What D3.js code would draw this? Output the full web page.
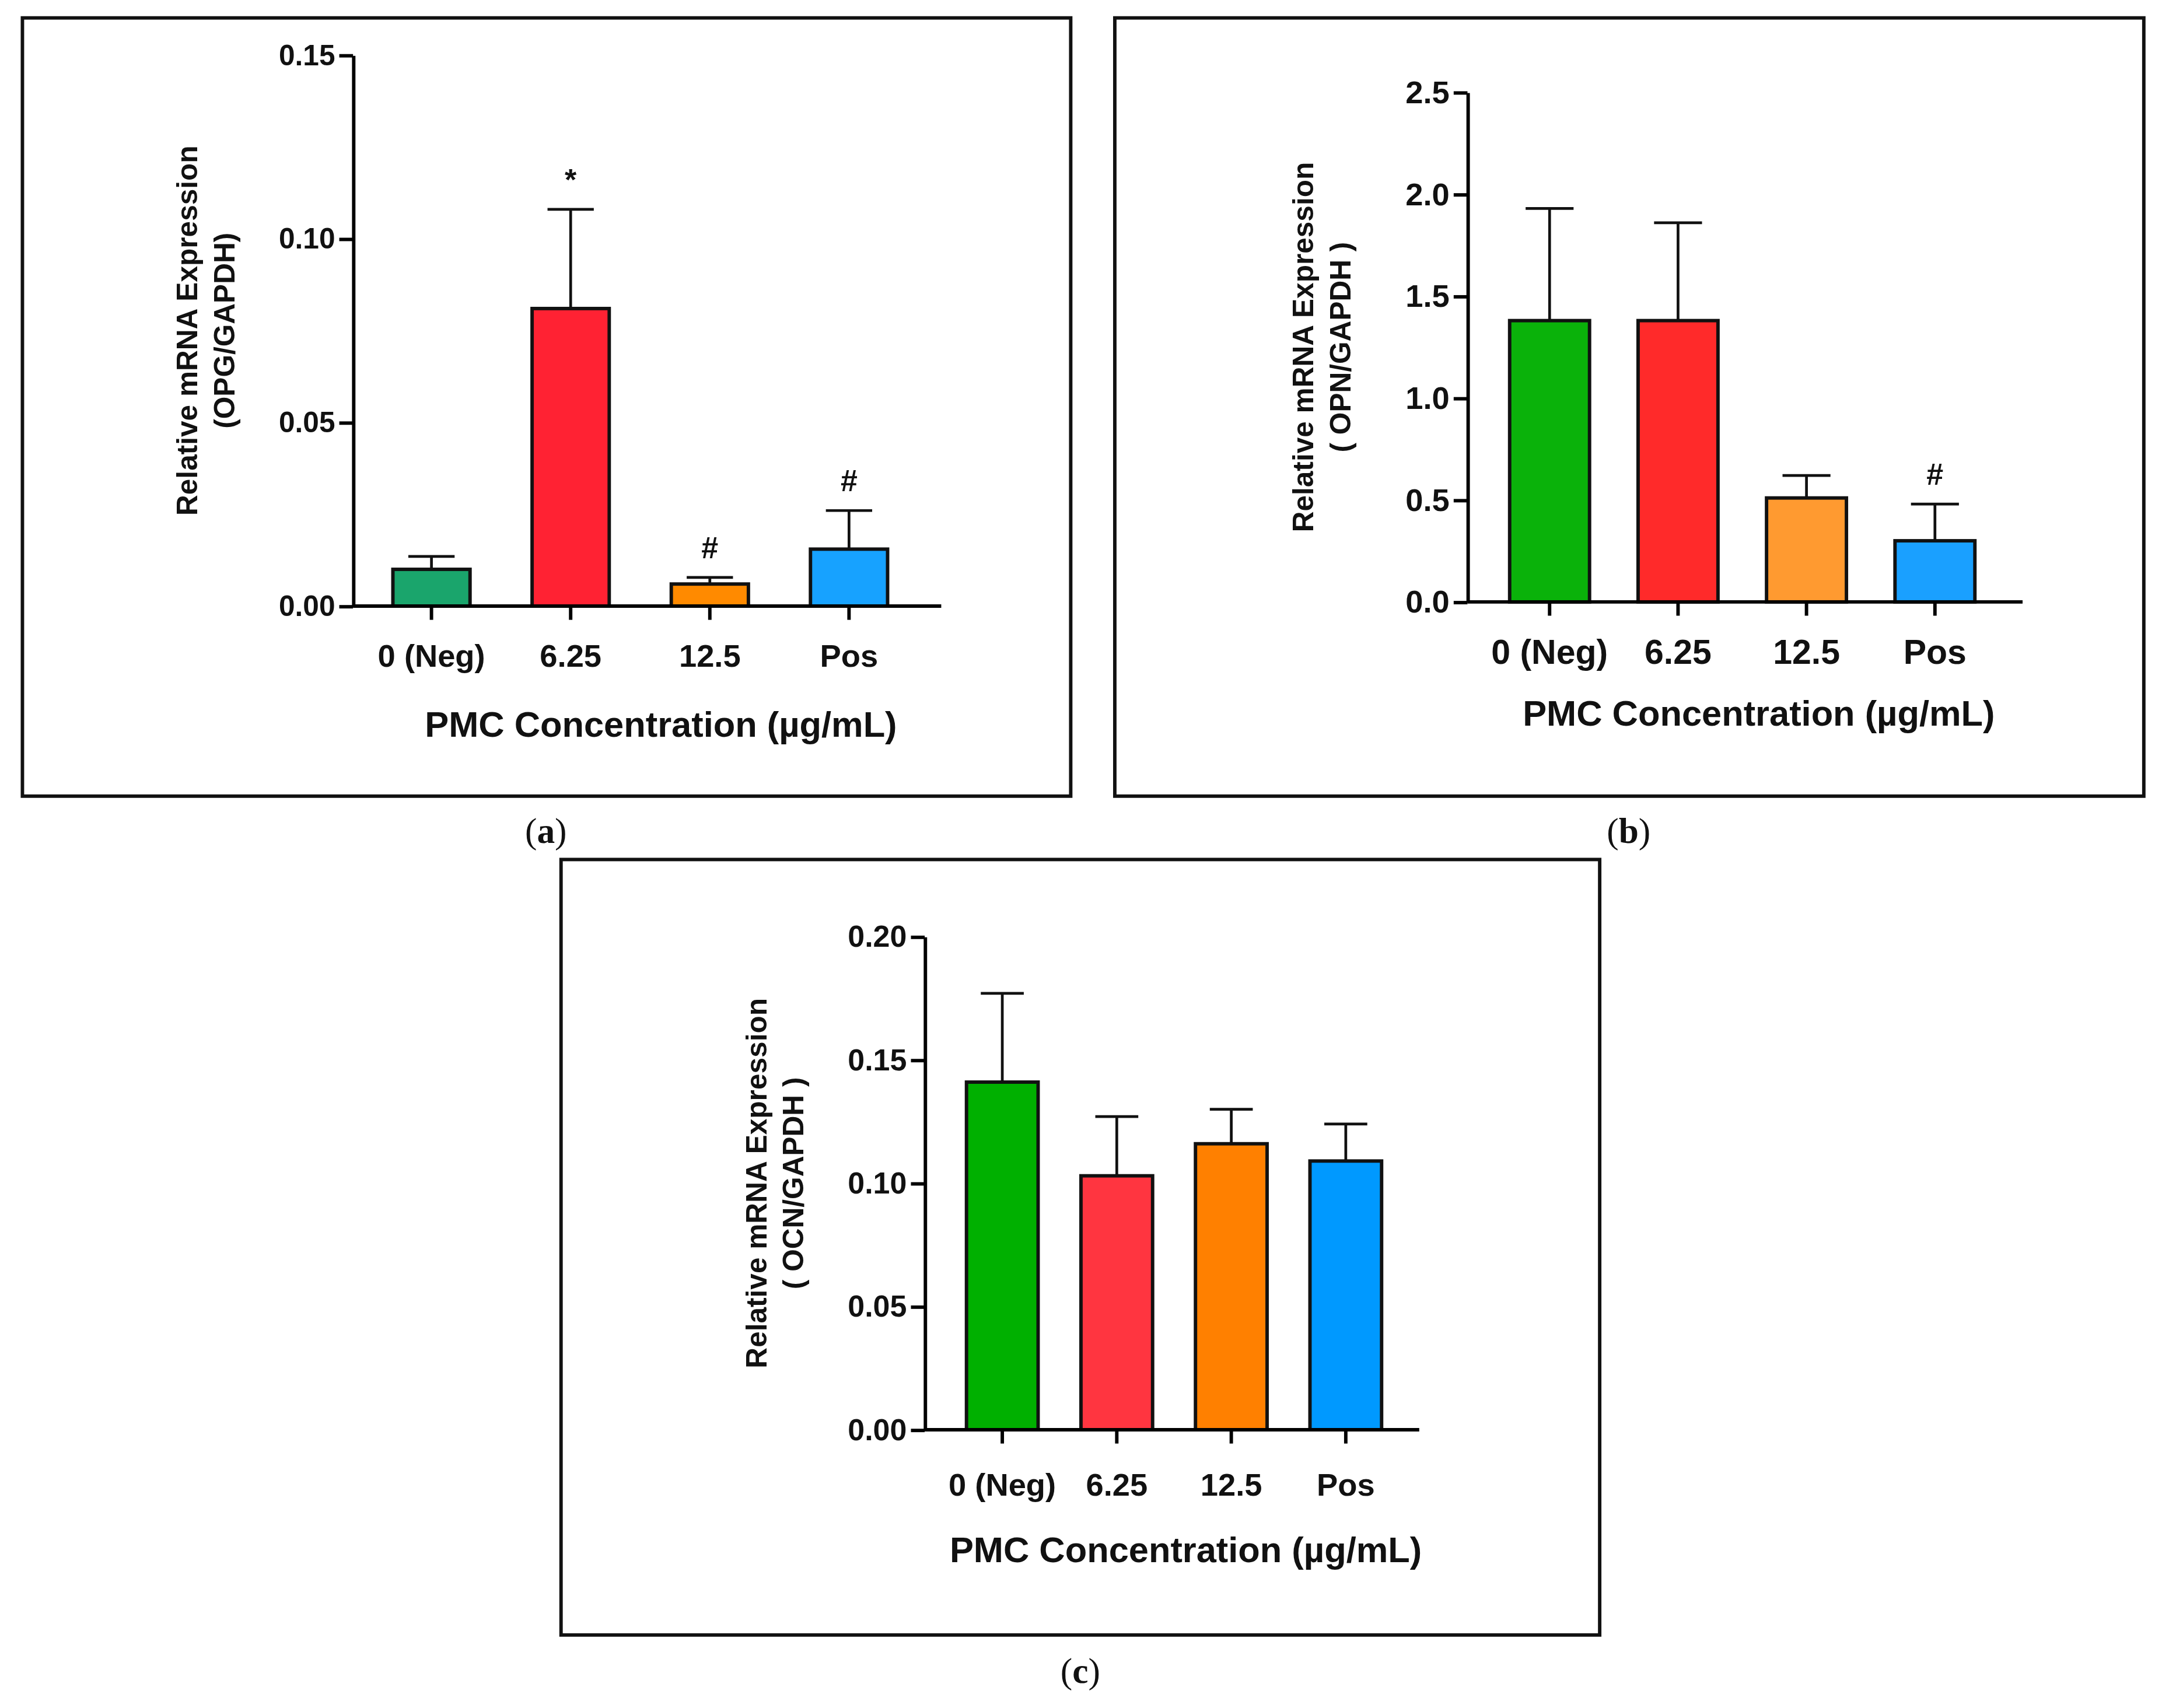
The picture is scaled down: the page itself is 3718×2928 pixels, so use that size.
<!DOCTYPE html>
<html lang="en">
<head>
<meta charset="utf-8">
<title>PMC mRNA expression</title>
<script src="https://d3js.org/d3.v7.min.js"></script>
<style>
body { margin: 0; background: #fff; }
text { font-family: "Liberation Sans", Arial, sans-serif; font-weight: bold; fill: #111; }
.cap { font-family: "Liberation Serif", "Times New Roman", serif; font-weight: normal; }
</style>
</head>
<body>
<div id="container"></div>
<script>
// data
var categories = ["0 (Neg)", "6.25", "12.5", "Pos"];

var opgMean = [0.010, 0.081, 0.006, 0.0155];
var opgErr  = [0.0135, 0.108, 0.0078, 0.026];
var opgMarks = ["", "*", "#", "#"];
var opgTicks = [0.00, 0.05, 0.10, 0.15];

var opnMean = [1.38, 1.38, 0.51, 0.30];
var opnErr  = [1.93, 1.86, 0.62, 0.48];
var opnMarks = ["", "", "", "#"];
var opnTicks = [0.0, 0.5, 1.0, 1.5, 2.0, 2.5];

var ocnMean = [0.141, 0.103, 0.116, 0.109];
var ocnErr  = [0.177, 0.127, 0.130, 0.124];
var ocnMarks = ["", "", "", ""];
var ocnTicks = [0.00, 0.05, 0.10, 0.15, 0.20];

var w = 1568, h = 1240;
var svg = d3.select("#container").append("svg")
  .attr("width", 3718).attr("height", 2928)
  .attr("viewBox", "0 0 " + w + " " + h);

var panels = [
  {box: [13, 13, 761, 565], x0: 253, x1: 680, band: [267, 656], yTop: 40, yBot: 440, max: 0.15, mean: opgMean, err: opgErr, marks: opgMarks,
   ticks: opgTicks, fmt: ".2f", colors: ["#1aa56c", "#ff2233", "#ff8a00", "#17a2ff"], label: "(OPG/GAPDH)",
   labX: 140, titleY: 535, cap: "a", capX: 393, capY: 612, tickY: 484, bw: 56, tf: 23, yf: 21},
  {box: [806, 13, 747, 565], x0: 1062, x1: 1465, band: [1082, 1441], yTop: 67, yBot: 437, max: 2.5, mean: opnMean, err: opnErr, marks: opnMarks,
   ticks: opnTicks, fmt: ".1f", colors: ["#0ab20a", "#ff2a2a", "#ff9a30", "#1aa0ff"], label: "( OPN/GAPDH )",
   labX: 950, titleY: 527, cap: "b", capX: 1179, capY: 612, tickY: 482, bw: 58, tf: 25, yf: 23},
  {box: [404, 624, 754, 563], x0: 668, x1: 1027, band: [689, 1009], yTop: 680, yBot: 1038, max: 0.20, mean: ocnMean, err: ocnErr, marks: ocnMarks,
   ticks: ocnTicks, fmt: ".2f", colors: ["#00b000", "#ff3540", "#ff8000", "#0099ff"], label: "( OCN/GAPDH )",
   labX: 553, titleY: 1134, cap: "c", capX: 781, capY: 1222, tickY: 1086, bw: 52, tf: 23, yf: 22}
];

panels.forEach(function(p) {
  var g = svg.append("g");
  g.append("rect").attr("x", p.box[0]).attr("y", p.box[1]).attr("width", p.box[2]).attr("height", p.box[3])
    .attr("fill", "none").attr("stroke", "#111").attr("stroke-width", 2.5);

  var x = d3.scaleBand().domain(categories).range(p.band).paddingInner(0.45).paddingOuter(0.15);
  var y = d3.scaleLinear().domain([0, p.max]).range([p.yBot, p.yTop]);
  var bw = p.bw;
  var cx = function(d) { return x(d) + x.bandwidth() / 2; };

  // error bars (upper only)
  g.selectAll(".err").data(categories).enter().append("path")
    .attr("d", function(d, i) {
      var c = cx(d), t = y(p.err[i]);
      return "M" + c + "," + y(p.mean[i]) + "V" + t + "M" + (c - bw * 0.3) + "," + t + "H" + (c + bw * 0.3);
    })
    .attr("stroke", "#111").attr("stroke-width", 2).attr("fill", "none");

  g.selectAll(".bar").data(categories).enter().append("rect")
    .attr("x", function(d) { return cx(d) - bw / 2; })
    .attr("y", function(d, i) { return y(p.mean[i]); })
    .attr("width", bw)
    .attr("height", function(d, i) { return p.yBot - y(p.mean[i]); })
    .attr("fill", function(d, i) { return p.colors[i]; })
    .attr("stroke", "#111").attr("stroke-width", 2.5);

  g.selectAll(".mark").data(categories).enter().append("text")
    .attr("x", cx)
    .attr("y", function(d, i) { return y(p.err[i]) - 14; })
    .attr("text-anchor", "middle").attr("font-size", 22)
    .text(function(d, i) { return p.marks[i]; });

  // axes
  var ya = g.append("g").attr("transform", "translate(" + p.x0 + ",0)")
    .call(d3.axisLeft(y).tickValues(p.ticks).tickFormat(d3.format(p.fmt)).tickSize(10).tickSizeOuter(0));
  ya.select(".domain").attr("stroke-width", 2.5);
  ya.selectAll(".tick line").attr("stroke-width", 2.5);
  ya.selectAll("text").attr("font-size", p.yf).attr("font-family", "Liberation Sans").attr("font-weight", "bold").attr("fill", "#111");

  var xa = g.append("g").attr("transform", "translate(0," + p.yBot + ")")
    .call(d3.axisBottom(x).tickSize(10).tickSizeOuter(0));
  xa.select(".domain").attr("d", "M" + p.x0 + ",0H" + p.x1).attr("stroke-width", 2.5);
  xa.selectAll(".tick line").attr("stroke-width", 2.5);
  xa.selectAll("text").attr("font-size", p.tf).attr("font-family", "Liberation Sans").attr("font-weight", "bold")
    .attr("fill", "#111").attr("y", p.tickY - p.yBot).attr("dy", 0);

  g.append("text").attr("x", (p.x0 + p.x1) / 2 + 10).attr("y", p.titleY).attr("text-anchor", "middle")
    .attr("font-size", 26).text("PMC Concentration (\u00b5g/mL)");

  var cy = (p.yTop + p.yBot) / 2;
  var yl = g.append("text").attr("transform", "translate(" + p.labX + "," + cy + ") rotate(-90)")
    .attr("text-anchor", "middle").attr("font-size", 21);
  yl.append("tspan").attr("x", 0).attr("dy", 0).text("Relative mRNA Expression");
  yl.append("tspan").attr("x", 0).attr("dy", 27).text(p.label);

  var cap = g.append("text").attr("class", "cap").attr("x", p.capX).attr("y", p.capY)
    .attr("text-anchor", "middle").attr("font-size", 26);
  cap.append("tspan").text("(");
  cap.append("tspan").attr("font-weight", "bold").text(p.cap);
  cap.append("tspan").text(")");
});
</script>
</body>
</html>
